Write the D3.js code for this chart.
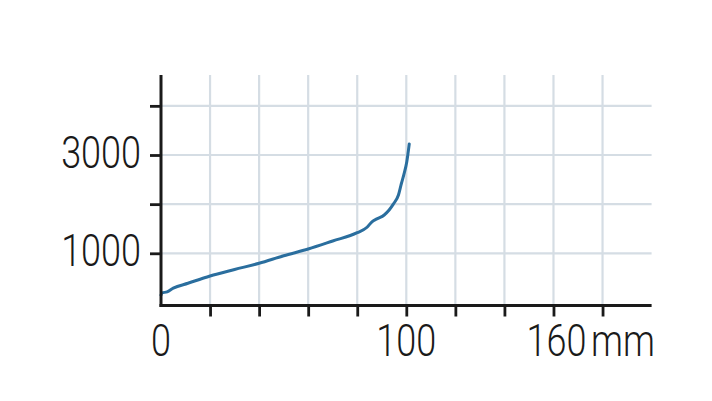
<!DOCTYPE html>
<html>
<head>
<meta charset="utf-8">
<script src="https://cdn.jsdelivr.net/npm/d3@7"></script>
<style>
  html, body { margin: 0; padding: 0; background: #fff; }
  svg { display: block; }
  text { font-family: Roboto, "Liberation Sans", sans-serif; font-weight: 300; fill: #1a1a1a; }
</style>
</head>
<body>
<svg id="chart" width="712" height="401"></svg>
<script>
// Data
const xValues = [0, 0.4, 2.5, 5, 11, 20, 30, 40, 50, 60, 70, 80, 84, 86, 88, 91, 93, 94.7, 96.8, 98, 99, 100.2, 101.2];
const yValues = [150, 195, 215, 290, 390, 538, 670, 797, 950, 1087, 1250, 1419, 1530, 1640, 1700, 1780, 1880, 2000, 2186, 2420, 2600, 2864, 3224];
const xTicks = [20, 40, 60, 80, 100, 120, 140, 160, 180];
const xTickLabels = [0, 100, 160];
const yTicks = [1000, 2000, 3000, 4000];
const yTickLabels = [1000, 3000];
const xUnit = "mm";

const svg = d3.select("#chart");
const x = d3.scaleLinear().domain([0, 200]).range([161, 651.6]);
const y = d3.scaleLinear().domain([0, 4000]).range([302.45, 105.85]);
const axisY = 305.5, axisTop = 75;
const gridColor = "#d5dde4";
const sx = 0.8, fs = 45;

// gridlines
svg.append("g").selectAll("line").data(yTicks).join("line")
  .attr("x1", x(0)).attr("x2", x(200))
  .attr("y1", d => y(d)).attr("y2", d => y(d))
  .attr("stroke", gridColor).attr("stroke-width", 2.2);
svg.append("g").selectAll("line").data(xTicks).join("line")
  .attr("x1", d => x(d)).attr("x2", d => x(d))
  .attr("y1", axisTop).attr("y2", axisY)
  .attr("stroke", gridColor).attr("stroke-width", 2.2);

// curve
const pts = xValues.map((v, i) => [v, yValues[i]]);
svg.append("path").datum(pts)
  .attr("fill", "none").attr("stroke", "#2a6e9e").attr("stroke-width", 3)
  .attr("stroke-linejoin", "round").attr("stroke-linecap", "round")
  .attr("d", d3.line().curve(d3.curveMonotoneX).x(d => x(d[0])).y(d => y(d[1])));

// axes
const xAxis = d3.axisBottom(x).tickValues(xTicks).tickSize(11).tickFormat("");
const gx = svg.append("g").attr("transform", `translate(0,${axisY})`).call(xAxis);
gx.select(".domain").remove();
gx.selectAll(".tick line").attr("stroke", "#1a1a1a").attr("stroke-width", 2.8);

const yAxis = d3.axisLeft(y).tickValues(yTicks).tickSize(11).tickFormat("");
const gy = svg.append("g").attr("transform", `translate(${x(0)},0)`).call(yAxis);
gy.select(".domain").remove();
gy.selectAll(".tick line").attr("stroke", "#1a1a1a").attr("stroke-width", 2.8);

svg.append("line").attr("x1", x(0)).attr("x2", x(0)).attr("y1", axisTop).attr("y2", axisY + 1.4)
  .attr("stroke", "#1a1a1a").attr("stroke-width", 3);
svg.append("line").attr("x1", x(0) - 1.5).attr("x2", x(200)).attr("y1", axisY).attr("y2", axisY)
  .attr("stroke", "#1a1a1a").attr("stroke-width", 3);

// labels
svg.append("g").selectAll("text").data(yTickLabels).join("text")
  .attr("transform", d => `translate(141,${y(d) + 12.5}) scale(${sx},1)`)
  .attr("text-anchor", "end").attr("font-size", fs)
  .text(d => d);
svg.append("g").selectAll("text").data(xTickLabels).join("text")
  .attr("transform", d => `translate(${x(d) + (d === 160 ? 3 : 0)},356) scale(${sx},1)`)
  .attr("text-anchor", "middle").attr("font-size", fs)
  .text(d => d);
svg.append("text").attr("transform", `translate(591,356) scale(${sx},1)`).attr("font-size", fs).text(xUnit);
</script>
</body>
</html>
